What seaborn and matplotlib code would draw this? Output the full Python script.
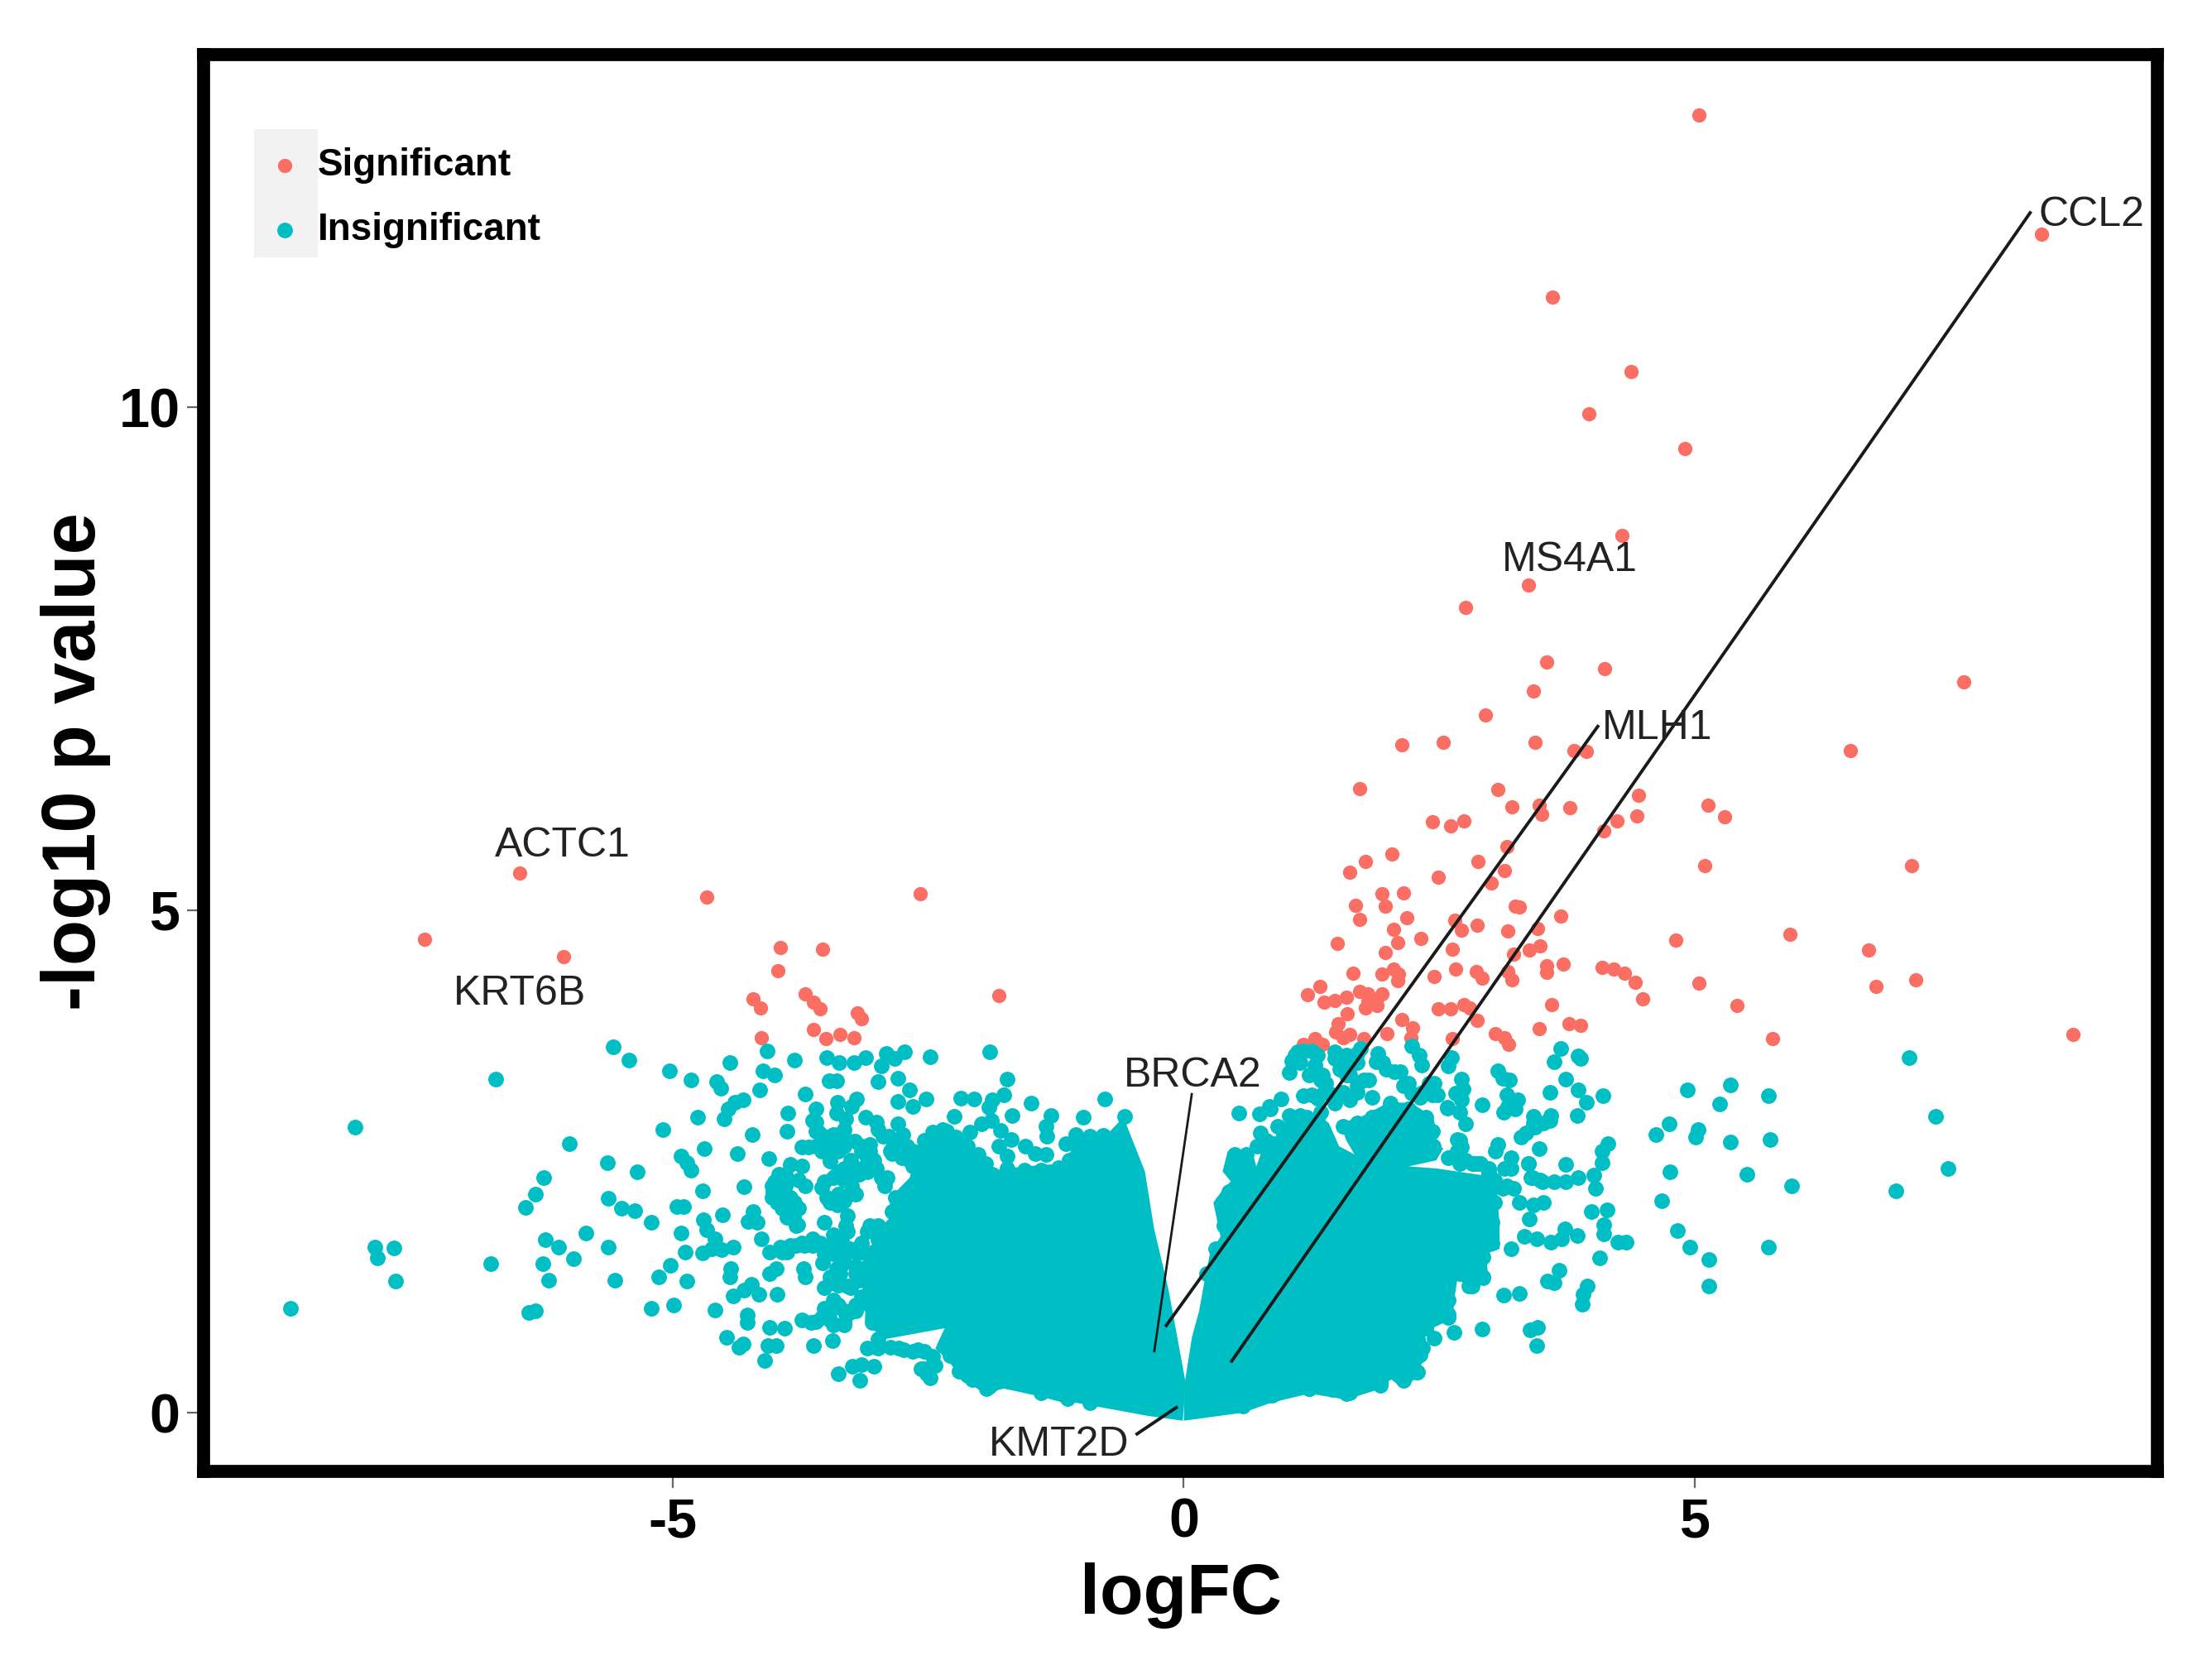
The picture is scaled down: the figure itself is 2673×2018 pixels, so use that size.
import matplotlib
matplotlib.use("Agg")
import matplotlib.pyplot as plt
from matplotlib.patches import Rectangle
import pandas as pd
import seaborn as sns

# Step 1: values (logFC, -log10 p)
sig_left = [
    (-6.50, 5.37), (-7.43, 4.71), (-6.07, 4.54), (-4.67, 5.13), (-2.58, 5.16), (-3.95, 4.63),
    (-3.53, 4.61), (-3.97, 4.40), (-1.81, 4.15), (-4.21, 4.12), (-4.14, 4.03), (-3.70, 4.17),
    (-3.62, 4.08), (-3.56, 4.02), (-3.19, 3.98), (-3.15, 3.92), (-3.62, 3.81), (-3.50, 3.72),
    (-3.36, 3.76), (-3.23, 3.73), (-4.13, 3.73),
]
sig_top = [
    (5.04, 12.91), (8.39, 11.72), (3.61, 11.10), (4.38, 10.36), (3.96, 9.94), (4.90, 9.59),
    (4.29, 8.73), (3.37, 8.23), (2.76, 8.01), (3.55, 7.47), (4.12, 7.40), (7.63, 7.27),
    (3.42, 7.18), (2.95, 6.94), (2.13, 6.64), (2.54, 6.67), (3.44, 6.67), (6.52, 6.59),
    (3.82, 6.59), (3.94, 6.58), (1.72, 6.21), (3.07, 6.20), (3.21, 6.03), (3.48, 6.04),
    (3.50, 5.95), (3.78, 6.02), (4.45, 6.14), (4.43, 5.94), (5.13, 6.04), (5.29, 5.93),
    (4.24, 5.89), (4.11, 5.79), (2.43, 5.88), (2.61, 5.84), (2.74, 5.89), (2.04, 5.56),
    (1.78, 5.48), (1.62, 5.38), (2.49, 5.33), (2.88, 5.48), (3.16, 5.63), (3.14, 5.39),
    (3.01, 5.27), (5.10, 5.44), (7.12, 5.44), (2.15, 5.17), (1.94, 5.16), (1.97, 5.04),
    (1.68, 5.05), (1.72, 4.91), (2.18, 4.92), (3.24, 5.04), (3.28, 5.03), (3.69, 4.94),
    (5.93, 4.76), (4.81, 4.70), (6.70, 4.60), (6.77, 4.24), (7.16, 4.31), (5.04, 4.27),
    (5.41, 4.05), (5.76, 3.72), (8.70, 3.76),
]
sig_mid = [
    (1.21, 4.16), (1.33, 4.24), (1.37, 4.08), (1.48, 4.10), (1.59, 4.13), (1.72, 4.19),
    (1.80, 4.17), (1.94, 4.17), (1.78, 4.03), (1.89, 4.05), (1.80, 4.09), (1.89, 4.12),
    (1.60, 3.97), (1.51, 3.87), (1.49, 3.79), (1.62, 3.76), (1.56, 3.73), (1.76, 3.72),
    (1.99, 3.77), (1.28, 3.72), (1.36, 3.66), (1.17, 3.66), (2.13, 3.91), (2.24, 3.83),
    (2.22, 3.73), (2.49, 4.02), (2.61, 4.02), (2.74, 4.06), (2.80, 4.03), (2.87, 3.90),
    (2.63, 3.72), (3.05, 3.77), (3.14, 3.73), (3.18, 3.66), (3.48, 3.82), (3.60, 4.06),
    (3.77, 3.87), (3.88, 3.85), (4.49, 4.12), (4.09, 4.43), (4.21, 4.41), (4.31, 4.37),
    (4.42, 4.28), (1.66, 4.37), (1.94, 4.36), (2.05, 4.41), (2.10, 4.36), (2.09, 4.30),
    (2.45, 4.34), (2.66, 4.41), (2.86, 4.39), (2.92, 4.32), (3.21, 4.31), (3.17, 4.39),
    (3.55, 4.45), (3.55, 4.38), (3.71, 4.46), (1.50, 4.67), (1.97, 4.58), (2.09, 4.68),
    (2.32, 4.72), (2.05, 4.81), (2.63, 4.61), (2.72, 4.80), (2.65, 4.90), (2.87, 4.85),
    (3.17, 4.79), (3.46, 4.82), (3.49, 4.64), (3.38, 4.60), (3.23, 4.56),
]

ins_far_left = [
    (-8.74, 1.04), (-8.11, 2.84), (-6.73, 3.32), (-7.91, 1.65), (-7.89, 1.54), (-7.73, 1.64),
    (-7.71, 1.31), (-6.78, 1.48), (-6.41, 1.00), (-6.34, 1.01), (-6.44, 2.04), (-6.34, 2.17),
    (-6.26, 2.34), (-6.01, 2.68), (-6.25, 1.72), (-6.12, 1.65), (-5.85, 1.79), (-5.97, 1.53),
    (-6.27, 1.48), (-6.21, 1.32), (-5.63, 1.65), (-5.57, 1.32), (-5.63, 2.13), (-5.50, 2.03),
    (-5.37, 2.01), (-5.21, 1.89), (-5.64, 2.49), (-5.35, 2.40), (-5.58, 3.64), (-5.43, 3.51),
    (-5.03, 3.40), (-4.82, 3.31), (-5.10, 2.82), (-5.21, 1.04), (-4.99, 1.07), (-5.14, 1.35),
    (-5.02, 1.47), (-4.86, 1.31), (-4.88, 1.60), (-4.92, 1.79), (-4.96, 2.05), (-4.89, 2.05),
    (-4.92, 2.55), (-4.86, 2.49), (-4.82, 2.41),
]
ins_left = [
    (-4.44, 3.48), (-4.57, 3.29), (-4.53, 3.23), (-4.31, 3.11), (-4.39, 3.09), (-4.46, 3.02),
    (-4.50, 2.92), (-4.76, 2.94), (-4.15, 3.21), (-4.08, 3.60), (-3.81, 3.51), (-4.12, 3.40),
    (-4.00, 3.36), (-3.49, 3.53), (-3.37, 3.48), (-3.23, 3.48), (-3.11, 3.53), (-2.91, 3.57),
    (-2.73, 3.59), (-2.83, 3.52), (-2.96, 3.45), (-2.48, 3.54), (-1.90, 3.59), (-3.47, 3.30),
    (-3.40, 3.30), (-2.99, 3.29), (-2.80, 3.33), (-3.70, 3.17), (-2.68, 3.21), (-2.80, 3.10),
    (-2.65, 3.05), (-2.52, 3.12), (-1.73, 3.32), (-2.18, 3.13), (-2.05, 3.12), (-1.76, 3.16),
    (-1.87, 3.11), (-1.91, 3.04), (-1.49, 3.08), (-2.25, 2.95), (-1.68, 2.96), (-1.30, 2.96),
    (-1.35, 2.85), (-1.34, 2.75), (-0.98, 2.94), (-0.77, 3.12), (-3.87, 2.98), (-3.88, 2.80),
    (-4.22, 2.77), (-4.69, 2.63), (-4.37, 2.58), (-4.06, 2.53), (-4.71, 2.21), (-4.30, 2.25),
    (-4.51, 1.97), (-4.70, 1.92), (-4.67, 1.82), (-4.59, 1.73), (-4.21, 2.00), (-4.26, 1.90),
    (-4.17, 1.89), (-4.13, 1.73), (-4.41, 1.65), (-4.52, 1.62), (-4.71, 1.59), (-4.62, 1.63),
    (-4.43, 1.43), (-4.44, 1.35), (-4.23, 1.28), (-4.41, 1.16), (-4.30, 1.22), (-4.16, 1.18),
    (-3.98, 1.18), (-4.59, 1.02), (-4.27, 0.97), (-4.27, 0.90), (-4.47, 0.75), (-4.35, 0.65),
    (-4.31, 0.68), (-4.05, 0.85), (-3.91, 0.84), (-4.07, 0.67), (-3.99, 0.67), (-4.10, 0.52),
    (-3.62, 0.67), (-3.44, 0.72), (-3.38, 0.39), (-3.24, 0.46), (-3.15, 0.48), (-3.03, 0.46),
    (-3.17, 0.32), (-4.05, 1.60), (-4.05, 1.38), (-3.99, 1.43), (-3.95, 1.65), (-3.85, 1.66),
    (-3.74, 1.69), (-3.63, 1.73), (-3.72, 1.43), (-3.70, 1.35), (-3.96, 2.37), (-4.00, 2.30),
    (-4.02, 2.20), (-3.98, 2.09), (-3.88, 2.03), (-3.82, 1.94), (-3.78, 1.87), (-3.85, 2.47),
    (-3.74, 2.45), (-3.90, 2.37), (-3.90, 2.26), (-3.85, 2.14), (-3.74, 2.64), (-3.60, 2.65),
    (-3.46, 2.50), (-3.54, 2.60), (-3.60, 3.02), (-3.60, 2.89), (-3.57, 2.78), (-3.49, 2.74),
    (-3.39, 3.09), (-3.40, 2.98), (-3.31, 2.92), (-3.20, 3.12), (-3.25, 3.05), (-3.11, 2.94),
    (-3.01, 2.89), (-2.94, 2.75), (-2.80, 2.87), (-2.75, 2.77), (-2.71, 2.65), (-3.38, 2.77),
    (-3.32, 2.65), (-3.15, 2.65), (-3.07, 2.67), (-3.26, 2.51), (-3.10, 2.54), (-3.26, 2.37),
    (-3.07, 2.43), (-2.96, 2.34), (-3.43, 2.34), (-3.54, 2.24), (-3.46, 2.09), (-3.27, 2.17),
    (-3.38, 2.17), (-3.70, 2.26), (-3.77, 2.31), (-2.85, 2.58), (-2.87, 2.60), (-2.65, 2.45),
    (-3.29, 1.96), (-3.31, 1.86), (-3.52, 1.89), (-3.43, 1.77), (-3.07, 1.86), (-3.15, 1.69),
    (-2.99, 1.72), (-3.35, 1.58), (-3.32, 1.49), (-3.27, 1.63), (-3.53, 1.49), (-3.15, 1.60),
    (-3.46, 1.35), (-3.52, 1.24), (-3.43, 1.12), (-3.29, 1.26), (-3.21, 1.38), (-3.74, 0.92),
    (-3.60, 0.91), (-3.46, 0.92), (-3.32, 0.90), (-3.21, 1.07), (-3.52, 1.04), (-3.01, 0.65),
    (-2.87, 0.65), (-2.74, 0.63), (-2.60, 0.63), (-2.54, 0.44), (-2.48, 0.35), (-2.09, 2.79),
    (-1.98, 2.87), (-1.88, 2.91), (-1.79, 2.81), (-1.69, 2.72), (-1.81, 2.65), (-1.73, 2.55),
    (-1.94, 2.48), (-1.55, 2.65), (-1.45, 2.58), (-1.35, 2.57), (-1.15, 2.68), (-1.06, 2.77),
    (-0.92, 2.75), (-0.78, 2.75), (-0.58, 2.95), (-0.79, 2.76), (-2.12, 0.37), (-1.93, 0.24),
    (-1.40, 0.20), (-1.14, 0.14),
]
ins_left_dense = [
    (-4.03, 2.26), (-4.03, 2.14), (-3.93, 2.03), (-3.88, 1.94), (-3.79, 1.86), (-3.95, 2.23),
    (-3.93, 2.14), (-3.88, 2.31), (-3.81, 2.09), (-3.85, 2.03), (-3.77, 2.03), (-3.67, 2.64),
    (-3.54, 2.63), (-3.43, 2.60), (-3.43, 2.71), (-3.38, 2.60), (-3.29, 2.71), (-3.22, 2.70),
    (-3.15, 2.60), (-3.07, 2.60), (-3.03, 2.51), (-3.15, 2.43), (-3.21, 2.37), (-3.32, 2.43),
    (-3.38, 2.40), (-3.18, 2.37), (-3.10, 2.40), (-3.01, 2.43), (-2.90, 2.34), (-2.93, 2.26),
    (-3.52, 2.30), (-3.40, 2.37), (-3.32, 2.31), (-3.25, 2.26), (-3.21, 2.17), (-3.32, 2.11),
    (-3.39, 2.07), (-3.49, 2.14), (-3.63, 2.91), (-3.60, 2.80), (-3.43, 2.77), (-3.32, 2.82),
    (-2.99, 2.82), (-2.89, 2.75), (-2.79, 2.71), (-2.85, 2.63), (-2.76, 2.54), (-2.68, 2.51),
    (-2.65, 2.60), (-3.29, 1.80), (-3.35, 1.72), (-3.43, 1.69), (-3.38, 1.63), (-3.29, 1.60),
    (-3.21, 1.60), (-3.10, 1.80), (-3.04, 1.60), (-2.93, 1.63), (-2.99, 1.86), (-2.96, 1.75),
    (-3.43, 1.58), (-3.52, 1.58), (-3.56, 1.69), (-3.63, 1.66), (-3.71, 1.66), (-3.79, 1.66),
    (-3.88, 1.60), (-3.93, 1.60), (-3.40, 1.43), (-3.36, 1.38), (-3.43, 1.29), (-3.38, 1.27),
    (-3.26, 1.24), (-3.18, 1.32), (-3.15, 1.43), (-3.21, 1.46), (-3.07, 1.49), (-3.10, 1.32),
    (-3.15, 1.15), (-3.32, 1.01), (-3.38, 1.07), (-3.46, 1.01), (-3.29, 0.98), (-3.21, 1.01),
    (-3.54, 0.95), (-3.65, 0.90), (-3.43, 0.87), (-3.32, 0.87), (-3.18, 1.09), (-2.99, 0.73),
    (-2.79, 0.64), (-2.65, 0.61), (-2.54, 0.61), (-2.99, 0.64), (-3.10, 0.64), (-2.46, 0.56),
    (-2.43, 0.47), (-2.51, 0.39), (-2.57, 0.44), (-2.54, 2.71), (-2.46, 2.79), (-2.36, 2.82),
    (-2.23, 2.74), (-2.12, 2.65), (-2.01, 2.57), (-2.01, 2.43), (-2.32, 2.65),
]
ins_left_edge = [
    (-1.87, 2.37), (-1.73, 2.43), (-1.56, 2.41), (-1.40, 2.41), (-1.23, 2.44), (-1.12, 2.51),
    (-2.32, 2.80), (-2.82, 2.14), (-2.85, 2.00), (-2.85, 1.86), (-2.87, 1.75), (-3.04, 1.58),
    (-3.07, 1.41), (-3.07, 1.24), (-3.07, 1.07), (-3.05, 0.90), (-2.29, 0.57), (-2.20, 0.41),
    (-2.07, 0.33), (-1.90, 0.26), (-1.62, 0.32), (-1.40, 0.22), (-1.14, 0.15), (-0.92, 0.10),
]
ins_right = [
    (1.11, 3.59), (1.25, 3.60), (1.06, 3.50), (1.03, 3.38), (1.14, 3.48), (1.28, 3.46),
    (1.36, 3.36), (1.39, 3.28), (1.48, 3.52), (1.59, 3.56), (1.70, 3.57), (1.53, 3.42),
    (1.62, 3.36), (1.90, 3.57), (1.88, 3.49), (1.98, 3.42), (2.12, 3.39), (2.15, 3.25),
    (2.23, 3.65), (2.30, 3.56), (2.33, 3.46), (1.76, 3.31), (1.81, 3.31), (1.84, 3.14),
    (1.70, 3.19), (1.62, 3.11), (1.17, 3.15), (1.31, 3.13), (0.95, 3.12), (0.84, 3.05),
    (0.74, 2.97), (1.42, 3.18), (0.54, 2.98), (0.75, 2.78), (0.99, 2.82), (1.03, 2.96),
    (1.14, 2.96), (2.02, 3.08), (2.62, 3.53), (2.59, 3.45), (2.40, 3.28), (2.43, 3.16),
    (2.31, 3.14), (2.72, 3.32), (2.73, 3.22), (2.66, 3.18), (2.72, 3.11), (2.58, 3.04),
    (2.70, 2.99), (2.76, 2.87), (2.68, 2.72), (2.72, 2.64), (3.07, 3.40), (3.12, 3.33),
    (3.19, 3.31), (2.92, 3.06), (3.16, 3.16), (3.27, 3.11), (3.13, 2.99), (3.24, 3.02),
    (3.17, 3.05), (3.69, 3.62), (3.62, 3.49), (3.86, 3.55), (3.88, 3.52), (3.74, 3.32),
    (3.86, 3.21), (3.94, 3.09), (4.10, 3.15), (3.85, 2.96), (3.58, 3.19), (3.59, 2.96),
    (3.42, 2.95), (3.52, 2.88), (3.44, 2.84), (3.35, 2.78), (3.30, 2.74), (3.48, 2.63),
    (3.07, 2.67), (3.05, 2.60), (3.20, 2.54), (3.14, 2.43), (3.37, 2.48), (3.41, 2.34),
    (3.49, 2.31), (3.16, 2.26), (3.74, 2.47), (3.62, 2.30), (3.74, 2.30), (3.86, 2.34),
    (4.01, 2.36), (4.03, 2.23), (4.15, 2.68), (4.09, 2.60), (4.09, 2.49), (3.28, 2.09),
    (3.52, 2.09), (3.42, 2.07), (3.38, 1.93), (3.99, 2.00), (4.14, 2.02), (4.11, 1.87),
    (4.11, 1.78), (4.25, 1.70), (4.33, 1.70), (3.20, 1.63), (3.33, 1.75), (3.45, 1.73),
    (3.59, 1.70), (3.70, 1.73), (3.73, 1.83), (3.85, 1.76), (4.07, 1.54), (3.67, 1.42),
    (3.56, 1.31), (3.62, 1.29), (3.95, 1.26), (3.91, 1.18), (3.90, 1.08), (3.13, 1.17),
    (3.28, 1.19), (2.92, 0.83), (2.64, 0.80), (2.45, 0.74), (3.46, 0.85), (3.39, 0.82),
    (3.45, 0.67), (2.84, 2.48), (2.98, 2.40), (1.23, 0.24), (1.59, 0.19), (1.92, 0.27),
    (2.15, 0.33), (2.27, 0.40), (2.29, 0.56), (2.31, 0.67),
]
ins_right_dense = [
    (0.81, 2.63), (0.89, 2.68), (0.98, 2.77), (0.92, 2.85), (0.85, 3.02), (1.09, 2.91),
    (1.23, 2.88), (1.25, 2.77), (1.14, 2.71), (1.34, 2.99), (1.48, 3.08), (1.56, 3.19),
    (1.70, 3.25), (1.37, 3.19), (1.25, 3.16), (1.23, 3.36), (1.34, 3.31), (1.09, 3.56),
    (1.17, 3.60), (1.31, 3.56), (1.48, 3.59), (1.73, 3.62), (1.59, 3.48), (1.70, 3.48),
    (1.59, 3.36), (1.95, 3.48), (2.06, 3.39), (2.20, 3.28), (2.23, 3.18), (2.34, 3.19),
    (2.45, 3.28), (2.48, 3.16), (2.58, 3.03), (2.70, 2.71), (2.68, 2.60), (2.76, 2.51),
    (2.87, 2.48), (2.98, 2.43), (3.04, 2.31), (2.59, 2.54), (3.20, 2.43), (3.12, 2.23),
    (3.23, 2.23), (3.40, 2.34), (3.37, 2.48), (3.51, 2.30), (3.42, 2.88), (3.58, 2.91),
    (2.79, 1.26), (2.93, 1.34), (2.84, 1.43), (2.56, 1.07), (2.59, 0.95), (2.37, 0.84),
    (2.29, 0.73),
]
ins_right_edge = [
    (0.58, 0.07), (0.86, 0.17), (1.23, 0.24), (1.45, 0.23), (1.62, 0.20), (1.92, 0.30),
    (2.15, 0.32), (2.29, 0.40), (2.31, 0.58), (0.22, 1.38), (0.31, 1.63), (0.39, 1.86),
    (0.375, 2.09), (0.445, 2.20), (0.47, 2.45), (0.50, 2.57), (0.61, 2.57), (3.01, 2.28),
    (3.04, 2.09), (3.02, 1.89), (3.02, 1.69), (2.93, 1.55), (2.93, 1.35), (2.82, 1.26),
    (2.70, 1.38), (2.59, 1.12), (2.59, 0.98), (2.37, 0.84), (2.34, 0.64), (2.03, 3.02),
    (2.20, 3.02), (2.37, 2.94), (2.43, 2.80), (2.44, 2.65), (2.82, 2.48), (2.90, 2.48),
    (2.98, 2.37), (2.70, 2.48), (0.72, 2.65), (0.81, 2.71), (1.06, 2.85), (1.20, 2.94),
    (1.31, 2.91), (1.56, 2.85), (1.70, 2.88), (1.84, 2.94),
]
ins_far_right = [
    (4.93, 3.21), (5.35, 3.26), (5.24, 3.07), (5.72, 3.15), (4.75, 2.87), (4.62, 2.77),
    (5.03, 2.82), (5.01, 2.74), (5.35, 2.69), (5.74, 2.72), (4.76, 2.40), (5.51, 2.37),
    (5.95, 2.26), (4.68, 2.11), (4.83, 1.81), (4.95, 1.65), (5.14, 1.52), (5.72, 1.65),
    (5.14, 1.26), (7.10, 3.53), (7.36, 2.95), (7.48, 2.43), (6.97, 2.21),
]

# the overplotted middle of the volcano, only its outline can be read
core_left = [
    (-2.87, 2.14), (-2.68, 2.34), (-2.60, 2.68), (-2.34, 2.85), (-2.09, 2.71), (-1.95, 2.40),
    (-1.56, 2.45), (-1.15, 2.48), (-1.06, 2.74), (-0.73, 2.79), (-0.59, 2.94), (-0.38, 2.40),
    (-0.29, 1.83), (-0.15, 1.23), (0.02, 0.29), (-0.01, -0.08), (-0.36, -0.03), (-1.06, 0.10),
    (-1.14, 0.09), (-1.40, 0.16), (-1.76, 0.24), (-1.95, 0.19), (-2.15, 0.33), (-2.32, 0.53),
    (-2.43, 0.64), (-2.34, 0.84), (-2.93, 0.73), (-3.12, 0.90), (-3.10, 1.43), (-2.90, 1.77),
]
core_right = [
    (0.00, -0.08), (0.01, 0.30), (0.08, 0.75), (0.15, 1.01), (0.21, 1.35), (0.26, 1.60),
    (0.36, 1.75), (0.29, 2.09), (0.39, 2.23), (0.46, 2.30), (0.38, 2.40), (0.43, 2.60),
    (0.67, 2.60), (0.71, 2.45), (0.78, 2.65), (0.97, 2.71), (1.23, 2.99), (1.31, 2.97),
    (1.42, 2.88), (1.52, 2.65), (1.67, 2.57), (1.59, 2.71), (1.53, 2.88), (1.73, 2.94),
    (2.01, 3.09), (2.23, 3.08), (2.44, 2.94), (2.49, 2.74), (2.44, 2.68), (2.54, 2.63),
    (2.47, 2.51), (2.20, 2.45), (2.47, 2.43), (3.07, 2.34), (3.07, 2.14), (3.09, 1.86),
    (3.09, 1.63), (2.96, 1.58), (2.98, 1.32), (2.79, 1.21), (2.68, 1.35), (2.63, 1.01),
    (2.66, 0.95), (2.37, 0.81), (2.34, 0.53), (2.29, 0.36), (2.15, 0.24), (2.03, 0.33),
    (1.87, 0.22), (1.59, 0.13), (1.23, 0.19), (0.86, 0.10), (0.58, 0.00),
]

gene_labels = ["CCL2", "MS4A1", "MLH1", "ACTC1", "KRT6B", "BRCA2", "KMT2D"]
gene_x = [8.88, 3.78, 4.63, -6.08, -6.50, 0.09, -1.22]
gene_y = [11.91, 8.48, 6.81, 5.64, 4.17, 3.35, -0.32]
# connector ends for the labelled genes
seg_genes = ["CCL2", "MLH1", "BRCA2", "KMT2D"]
seg_x0 = [8.29, 4.06, 0.08, -0.47]
seg_y0 = [11.95, 6.84, 3.18, -0.22]
seg_x1 = [0.46, -0.18, -0.29, -0.06]
seg_y1 = [0.50, 0.855, 0.60, 0.06]

x_ticks = [-5, 0, 5]
x_tick_labels = ["-5", "0", "5"]
y_ticks = [0, 5, 10]

RED = "#FB6E64"
TEAL = "#00BFC4"

sig = pd.DataFrame(sig_left + sig_top + sig_mid, columns=["logFC", "p"])
ins = pd.DataFrame(ins_far_left + ins_left + ins_left_dense + ins_left_edge
                   + ins_right + ins_right_dense + ins_right_edge + ins_far_right,
                   columns=["logFC", "p"])

# Step 2: figure
sns.set_theme(style="white")
plt.rcParams["font.family"] = ["Liberation Sans", "DejaVu Sans"]

W, H = 2673, 2018
fig = plt.figure(figsize=(W / 100, H / 100), dpi=100)
ax = fig.add_axes([246 / W, 1 - 1778 / H, (2607 - 246) / W, (1778 - 66) / H])

sns.scatterplot(data=sig, x="logFC", y="p", color=RED, s=155, linewidth=0, label="Significant", ax=ax)
ax.fill(*zip(*core_left), color=TEAL, lw=0)
ax.fill(*zip(*core_right), color=TEAL, lw=0)
sns.scatterplot(data=ins, x="logFC", y="p", color=TEAL, s=185, linewidth=0, label="Insignificant", ax=ax)

# Step 3: gene labels and connectors
for x0, y0, x1, y1, gene in zip(seg_x0, seg_y0, seg_x1, seg_y1, seg_genes):
    lw = 2.0 if gene == "BRCA2" else 2.8
    ax.plot([x0, x1], [y0, y1], color="#1a1a1a", lw=lw, solid_capstyle="butt")
for gene, x, y in zip(gene_labels, gene_x, gene_y):
    ax.text(x, y, gene, fontsize=36, color="#222222", ha="center", va="center")

# Step 4: axes
ax.set_xlim(-9.59, 9.526)
ax.set_ylim(-0.584, 13.51)
ax.set_xticks(x_ticks, labels=x_tick_labels)
ax.set_yticks(y_ticks)
ax.tick_params(axis="both", length=14.5, width=1.6, color="#666666", labelsize=48, labelcolor="black",
               pad=7, bottom=True, left=True)
ax.tick_params(axis="x", pad=8.5)
ax.tick_params(axis="y", pad=6)
for lab in ax.get_xticklabels() + ax.get_yticklabels():
    lab.set_fontweight("bold")
for spine in ax.spines.values():
    spine.set_visible(True)
    spine.set_color("black")
    spine.set_linewidth(11.3)
ax.set_xlabel("logFC", fontsize=62, fontweight="bold", color="black")
ax.set_ylabel("-log10 p value", fontsize=65, fontweight="bold", color="black")
ax.xaxis.set_label_coords(0.5, -0.064)
ax.yaxis.set_label_coords(-0.0475, 0.501)

# Step 5: legend with its grey key strip
ax.add_patch(Rectangle((307 / W, 1 - 311 / H), 77 / W, 155 / H, transform=fig.transFigure,
                       color="#F2F2F2", lw=0, zorder=0.5, clip_on=False))
leg = ax.legend(loc="center left", bbox_to_anchor=(321 / W, 1 - 239 / H), bbox_transform=fig.transFigure,
                frameon=False, handlelength=1.0, handletextpad=0.37, borderpad=0, borderaxespad=0,
                labelspacing=0.75, scatterpoints=1, labelcolor="black", prop={"weight": "bold", "size": 33})
leg.set_zorder(5)

fig.savefig("out.png", dpi=100, facecolor="white")
plt.close(fig)
